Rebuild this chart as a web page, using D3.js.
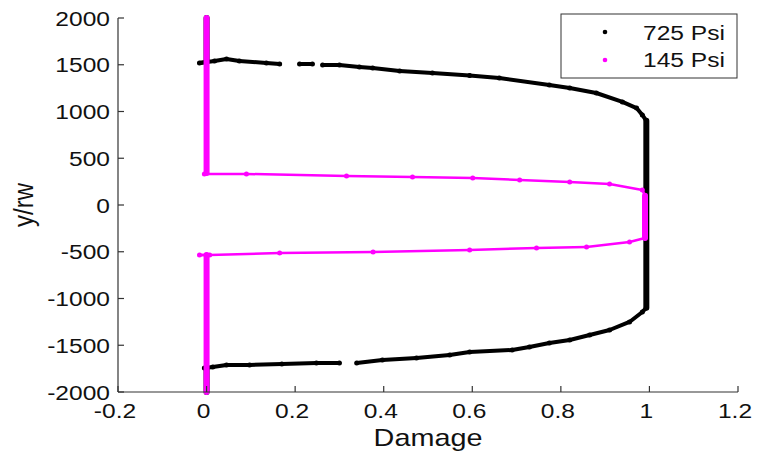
<!DOCTYPE html>
<html>
<head>
<meta charset="utf-8">
<script src="https://cdnjs.cloudflare.com/ajax/libs/d3/7.8.5/d3.min.js"></script>
<style>
  body { margin: 0; background: #fff; }
  text { font-family: "Liberation Sans", Arial, sans-serif; fill: #111; }
</style>
</head>
<body>
<div id="chart"></div>
<script>
(function() {
    let w = 758,
        h = 454,
        sx = 1.17; // the picture is a bit stretched sideways

    // 725 Psi, top to bottom (null = gap in the markers)
    let damage725 = [0, 0, -0.016, 0.018, 0.045, 0.074, 0.135, 0.165, null, 0.21, 0.239, null,
        0.262, 0.30, 0.345, 0.375, 0.436, 0.51, 0.594, 0.661, 0.774, 0.82, 0.88, 0.939, 0.971, 0.984, 0.993,
        0.993, 0.984, 0.955, 0.91, 0.865, 0.82, 0.774, 0.729, 0.69, 0.594, 0.549, 0.474, 0.397, 0.339, null,
        0.30, 0.248, 0.17, 0.097, 0.045, 0.014, -0.005, 0, 0];
    let yrw725 = [2000, 1530, 1519, 1540, 1561, 1540, 1519, 1508, null, 1508, 1508, null,
        1497, 1497, 1476, 1465, 1433, 1412, 1385, 1358, 1283, 1251, 1198, 1102, 1037, 963, 900,
        -1100, -1144, -1251, -1337, -1390, -1444, -1476, -1519, -1551, -1572, -1604, -1636, -1658, -1690, null,
        -1690, -1690, -1700, -1711, -1711, -1733, -1743, -1745, -2000];

    // 145 Psi, top to bottom
    let damage145 = [0, 0, -0.005, 0.09, 0.316, 0.465, 0.601, 0.707, 0.82, 0.91, 0.984, 0.99,
        0.99, 0.955, 0.858, 0.745, 0.594, 0.376, 0.165, 0.007, -0.016, 0, 0];
    let yrw145 = [2000, 342, 332, 332, 310, 299, 289, 267, 246, 225, 160, 100,
        -353, -396, -449, -460, -481, -503, -513, -535, -535, -535, -2000];

    let xTicks = [-0.2, 0, 0.2, 0.4, 0.6, 0.8, 1, 1.2];
    let yTicks = [-2000, -1500, -1000, -500, 0, 500, 1000, 1500, 2000];
    let seriesNames = ["725 Psi", "145 Psi"];
    let seriesColors = ["#000000", "#ff00ff"];

    let svg = d3.select("#chart")
        .append("svg")
        .attr("width", w)
        .attr("height", h);

    let x = d3.scaleLinear().domain([-0.2, 1.2]).range([118, 738]);
    let y = d3.scaleLinear().domain([-2000, 2000]).range([392, 18]);

    function points(ds, vs) {
        return ds.map((d, i) => d === null ? null : { d: d, v: vs[i] });
    }

    function drawSeries(pts, color, thin) {
        let g = svg.append("g");
        let segs = d3.pairs(pts).filter(p => p[0] && p[1]);
        g.selectAll("line").data(segs).enter().append("line")
            .attr("x1", p => x(p[0].d))
            .attr("y1", p => y(p[0].v))
            .attr("x2", p => x(p[1].d))
            .attr("y2", p => y(p[1].v))
            .attr("stroke", color)
            .attr("stroke-linecap", "round")
            .attr("stroke-width", p => p[0].d === p[1].d ? 6 : thin);
        g.selectAll("circle").data(pts.filter(p => p)).enter().append("circle")
            .attr("cx", p => x(p.d))
            .attr("cy", p => y(p.v))
            .attr("r", 2.5)
            .attr("fill", color);
    }

    drawSeries(points(damage725, yrw725), seriesColors[0], 4);
    drawSeries(points(damage145, yrw145), seriesColors[1], 2.5);

    // axes (left and bottom only, ticks inward)
    let ax = svg.append("g").attr("stroke", "#333").attr("stroke-width", 1.2);
    ax.append("line").attr("x1", x(-0.2)).attr("x2", x(-0.2)).attr("y1", y(2000)).attr("y2", y(-2000));
    ax.append("line").attr("x1", x(-0.2)).attr("x2", x(1.2)).attr("y1", y(-2000)).attr("y2", y(-2000));
    ax.selectAll(".yt").data(yTicks).enter().append("line")
        .attr("x1", x(-0.2)).attr("x2", x(-0.2) + 6)
        .attr("y1", d => y(d)).attr("y2", d => y(d));
    ax.selectAll(".xt").data(xTicks).enter().append("line")
        .attr("y1", y(-2000)).attr("y2", y(-2000) - 6)
        .attr("x1", d => x(d)).attr("x2", d => x(d));

    svg.selectAll(".ylab").data(yTicks).enter().append("text")
        .attr("transform", d => `translate(110,${y(d) + 7.5}) scale(${sx},1)`)
        .attr("text-anchor", "end")
        .attr("font-size", 21)
        .text(d => d);

    svg.selectAll(".xlab").data(xTicks).enter().append("text")
        .attr("transform", d => `translate(${x(d) - 3},418) scale(${sx},1)`)
        .attr("text-anchor", "middle")
        .attr("font-size", 21)
        .text(d => d);

    svg.append("text")
        .attr("transform", `translate(428,446) scale(1.2,1)`)
        .attr("text-anchor", "middle")
        .attr("font-size", 24)
        .text("Damage");

    svg.append("text")
        .attr("transform", `translate(33,205) rotate(-90) scale(1,${sx})`)
        .attr("text-anchor", "middle")
        .attr("font-size", 24)
        .text("y/rw");

    // legend
    let lg = svg.append("g");
    lg.append("rect")
        .attr("x", 561).attr("y", 14).attr("width", 176).attr("height", 64)
        .attr("fill", "#fff").attr("stroke", "#333").attr("stroke-width", 1);
    seriesNames.forEach((name, i) => {
        lg.append("circle").attr("cx", 605).attr("cy", 32 + i * 28).attr("r", 2.3)
            .attr("fill", seriesColors[i]);
        lg.append("text")
            .attr("transform", `translate(643,${40 + i * 27}) scale(${sx},1)`)
            .attr("font-size", 21)
            .text(name);
    });
})();
</script>
</body>
</html>
